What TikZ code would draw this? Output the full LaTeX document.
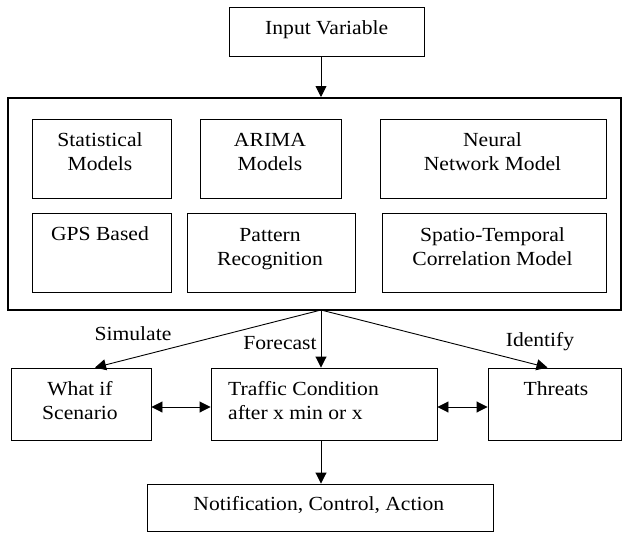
\documentclass[tikz,border=0pt]{standalone}
\usepackage{fontspec}
\setmainfont{Liberation Serif}[FakeStretch=1.08]
\usetikzlibrary{arrows.meta,calc}
\begin{document}
\begin{tikzpicture}[x=1pt,y=-1pt,
  box/.style={draw=black,line width=0.9pt,rectangle,inner sep=0pt,fill=none},
  frame/.style={draw=black,line width=2pt,rectangle,inner sep=0pt},
  txt/.style={inner sep=0pt,font=\fontsize{20}{24}\selectfont,align=center},
  conn/.style={line width=0.9pt,-{Triangle[length=11pt,width=11pt]}},
  dconn/.style={line width=0.9pt,{Triangle[length=11pt,width=11pt]}-{Triangle[length=11pt,width=11pt]}}]
\useasboundingbox (0,0) rectangle (622,533);
% boxes
\node[box,minimum width=195pt,minimum height=49pt] (input) at (326.5,31.5) {};
\node[frame,minimum width=613pt,minimum height=212pt] (big) at (314.5,204) {};
\node[box,minimum width=139pt,minimum height=79pt] (stat) at (101.5,158.5) {};
\node[box,minimum width=141pt,minimum height=79pt] (arima) at (270.5,158.5) {};
\node[box,minimum width=226pt,minimum height=79pt] (neural) at (493,158.5) {};
\node[box,minimum width=139pt,minimum height=79pt] (gps) at (101.5,252.5) {};
\node[box,minimum width=168pt,minimum height=79pt] (pattern) at (271,252.5) {};
\node[box,minimum width=224pt,minimum height=79pt] (spatio) at (494,252.5) {};
\node[box,minimum width=140pt,minimum height=72pt] (whatif) at (81,404) {};
\node[box,minimum width=226pt,minimum height=72pt] (traffic) at (324,404) {};
\node[box,minimum width=133pt,minimum height=72pt] (threats) at (554.5,404) {};
\node[box,minimum width=346pt,minimum height=47pt] (notif) at (320,507.5) {};
% texts
\node[txt] (t-input) at (326.7,29.2) {\strut Input Variable};
\node[txt] (t-stat) at (100,153.2) {\strut Statistical\\\strut Models};
\node[txt] (t-arima) at (270,153.2) {\strut ARIMA\\\strut Models};
\node[txt] (t-neural) at (492.5,153.2) {\strut Neural\\\strut Network Model};
\node[txt] (t-gps) at (100,235.2) {\strut GPS Based};
\node[txt] (t-pattern) at (270,248.7) {\strut Pattern\\\strut Recognition};
\node[txt] (t-spatio) at (492.5,248.7) {\strut Spatio-Temporal\\\strut Correlation Model};
\node[txt] (t-whatif) at (80,402.2) {\strut What if\\\strut Scenario};
\node[txt,align=left,anchor=west] (t-traffic) at (228,402.2) {\strut Traffic Condition\\\strut after x min or x};
\node[txt] (t-threats) at (556,390.2) {\strut Threats};
\node[txt] (t-notif) at (318.8,505.2) {\strut Notification, Control, Action};
\node[txt] (t-sim) at (133,335.2) {\strut Simulate};
\node[txt] (t-fore) at (280,344.2) {\strut Forecast};
\node[txt] (t-ident) at (540,341.2) {\strut Identify};
% connector points
\coordinate (hub) at (321,310);
\coordinate (wtip) at ($(whatif.north)+(14,0)$);
\coordinate (ttip) at ($(threats.north)+(-7,0)$);
\coordinate (lvl) at (0,407);
% connectors
\draw[conn] (input.south -| hub) -- (big.north -| hub);
\draw[conn] (hub) -- (wtip);
\draw[conn] (hub) -- (traffic.north -| hub);
\draw[conn] (hub) -- (ttip);
\draw[dconn] (whatif.east |- lvl) -- (traffic.west |- lvl);
\draw[dconn] (traffic.east |- lvl) -- (threats.west |- lvl);
\draw[conn] (traffic.south -| hub) -- (notif.north -| hub);
\end{tikzpicture}
\end{document}
